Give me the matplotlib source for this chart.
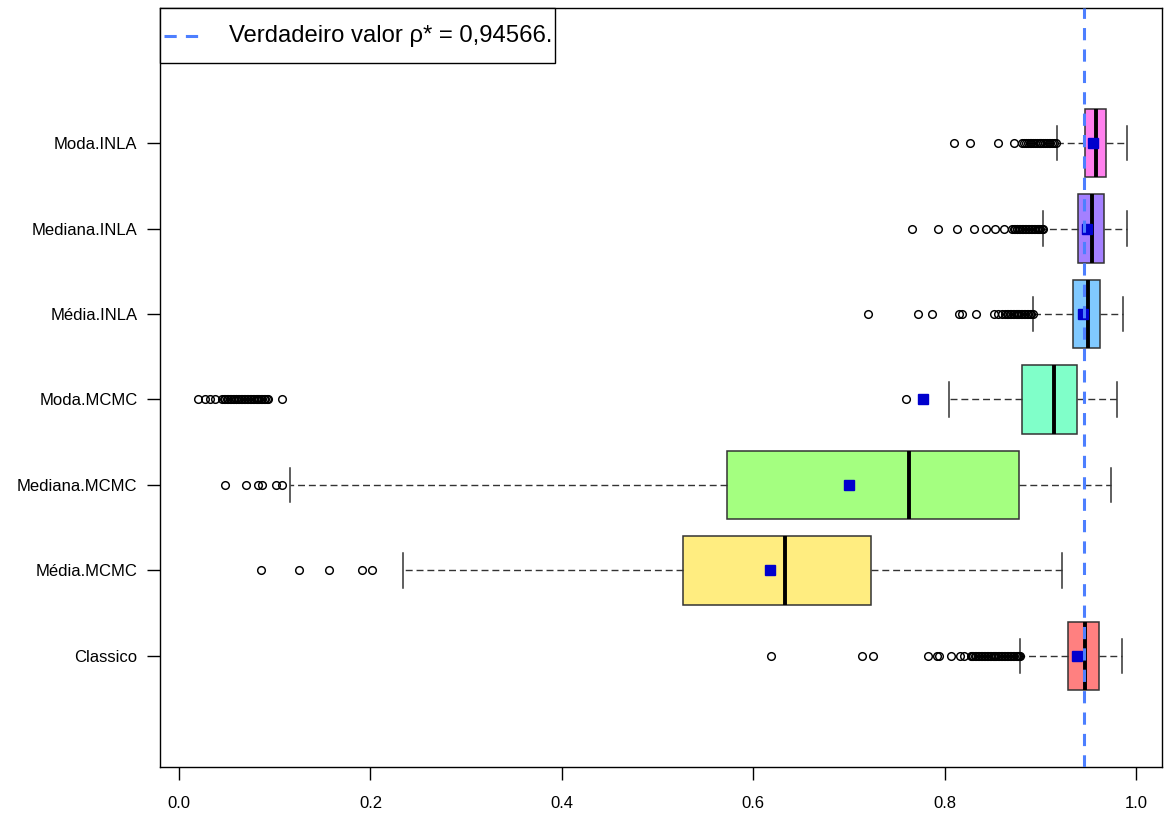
import matplotlib
matplotlib.use("Agg")
import matplotlib.pyplot as plt
from matplotlib.lines import Line2D
from matplotlib.patches import Rectangle

plt.rcParams['font.family'] = ['Liberation Sans', 'DejaVu Sans']

categories = ["Classico", "Média.MCMC", "Mediana.MCMC", "Moda.MCMC",
              "Média.INLA", "Mediana.INLA", "Moda.INLA"]
colors = ["#FF8080", "#FFED80", "#A4FF80", "#80FFC9", "#80C9FF", "#A480FF", "#FF80ED"]

whislo = [0.879, 0.234, 0.116, 0.804, 0.892, 0.903, 0.917]
q1     = [0.929, 0.527, 0.573, 0.881, 0.934, 0.939, 0.947]
med    = [0.947, 0.633, 0.763, 0.914, 0.950, 0.954, 0.958]
q3     = [0.961, 0.723, 0.878, 0.938, 0.962, 0.966, 0.969]
whishi = [0.985, 0.923, 0.974, 0.980, 0.986, 0.990, 0.990]
means  = [0.938, 0.617, 0.700, 0.777, 0.944, 0.949, 0.955]

out_classico = [0.618, 0.714, 0.725, 0.782, 0.792, 0.794, 0.807, 0.816, 0.820,
                0.827, 0.829, 0.830, 0.832, 0.833, 0.835, 0.836, 0.838, 0.839, 0.841,
                0.842, 0.844, 0.845, 0.847, 0.848, 0.850, 0.851, 0.853, 0.854, 0.856,
                0.857, 0.859, 0.860, 0.862, 0.863, 0.865, 0.866, 0.868, 0.869, 0.871,
                0.872, 0.874, 0.875, 0.877, 0.878, 0.879]
out_media_mcmc = [0.086, 0.125, 0.157, 0.191, 0.202]
out_mediana_mcmc = [0.048, 0.070, 0.083, 0.087, 0.101, 0.108]
out_moda_mcmc = [0.020, 0.027, 0.032, 0.038,
                 0.045, 0.047, 0.048, 0.050, 0.051, 0.053, 0.054, 0.056, 0.057, 0.059,
                 0.060, 0.062, 0.063, 0.065, 0.066, 0.068, 0.069, 0.071, 0.072, 0.074,
                 0.075, 0.077, 0.078, 0.080, 0.081, 0.083, 0.084, 0.086, 0.087, 0.089,
                 0.090, 0.092, 0.093, 0.108, 0.760]
out_media_inla = [0.720, 0.772, 0.787, 0.815, 0.818, 0.833, 0.851, 0.856, 0.860,
                  0.863, 0.865, 0.866, 0.868, 0.869, 0.871, 0.872, 0.874, 0.875, 0.877,
                  0.878, 0.880, 0.881, 0.883, 0.884, 0.886, 0.887, 0.889, 0.890, 0.892]
out_mediana_inla = [0.766, 0.793, 0.813, 0.831, 0.843, 0.852, 0.862,
                    0.870, 0.872, 0.873, 0.875, 0.876, 0.878, 0.879, 0.881, 0.882, 0.884,
                    0.885, 0.887, 0.888, 0.890, 0.891, 0.893, 0.894, 0.896, 0.897, 0.899,
                    0.900, 0.902, 0.903]
out_moda_inla = [0.810, 0.826, 0.856, 0.872,
                 0.881, 0.883, 0.885, 0.887, 0.889, 0.890, 0.892, 0.894, 0.896, 0.898,
                 0.900, 0.901, 0.903, 0.905, 0.907, 0.909, 0.910, 0.912, 0.914, 0.916]
outliers = [out_classico, out_media_mcmc, out_mediana_mcmc, out_moda_mcmc,
            out_media_inla, out_mediana_inla, out_moda_inla]

true_value = 0.94566
legend_label = "Verdadeiro valor ρ* = 0,94566."
xticks = [0.0, 0.2, 0.4, 0.6, 0.8, 1.0]
xticklabels = ["0.0", "0.2", "0.4", "0.6", "0.8", "1.0"]

fig = plt.figure(figsize=(11.64, 8.18), dpi=100)
ax = fig.add_axes([160/1164, 1 - 767/818, (1162-160)/1164, (767-8)/818])

stats = []
for i in range(len(categories)):
    stats.append(dict(label=categories[i], whislo=whislo[i], q1=q1[i], med=med[i],
                      q3=q3[i], whishi=whishi[i], fliers=outliers[i]))

positions = list(range(1, len(categories) + 1))
bp = ax.bxp(stats, positions=positions, widths=0.8, capwidths=0.4,
            orientation='horizontal', patch_artist=True, showfliers=True,
            boxprops=dict(edgecolor="#333333", linewidth=1.1),
            medianprops=dict(color="black", linewidth=2.8, solid_capstyle='butt'),
            whiskerprops=dict(color="#333333", linewidth=1.0, linestyle=(0, (5, 2.8))),
            capprops=dict(color="#333333", linewidth=1.1),
            flierprops=dict(marker='o', markerfacecolor='none', markeredgecolor='black',
                            markersize=5.5, markeredgewidth=1.05, linestyle='none'))
for patch, c in zip(bp['boxes'], colors):
    patch.set_facecolor(c)

ax.plot(means, positions, linestyle='none', marker='s', color='#0000CD',
        markersize=6.5, zorder=4)

ax.axvline(true_value, color="#4D7FFF", linewidth=2.2, linestyle=(0, (4, 3)), zorder=5)

ax.set_xlim(-0.0199, 1.027)
ax.set_ylim(-0.3, 8.58)
ax.set_xticks(xticks)
ax.set_xticklabels(xticklabels, fontsize=12)
ax.set_yticks(positions)
ax.set_yticklabels(categories, fontsize=12)
ax.tick_params(axis='both', direction='out', length=9.2, width=1, color='black')
ax.tick_params(axis='x', pad=12)
ax.tick_params(axis='y', pad=7)
for s in ax.spines.values():
    s.set_linewidth(1.0)

# legend box in the top-left corner of the plot region
ax.add_patch(Rectangle((0, 0.9275), 0.3942, 0.0725, transform=ax.transAxes,
                       facecolor='white', edgecolor='black', linewidth=1.0,
                       zorder=6, clip_on=False))
ax.add_line(Line2D([0.004, 0.045], [0.9631, 0.9631], transform=ax.transAxes,
                   color="#4D7FFF", linewidth=2.2, linestyle=(0, (4, 3)), zorder=7))
ax.text(0.0689, 0.9631, legend_label, transform=ax.transAxes, fontsize=17.2,
        va='center', ha='left', zorder=7)

fig.savefig("out.png", dpi=100)
